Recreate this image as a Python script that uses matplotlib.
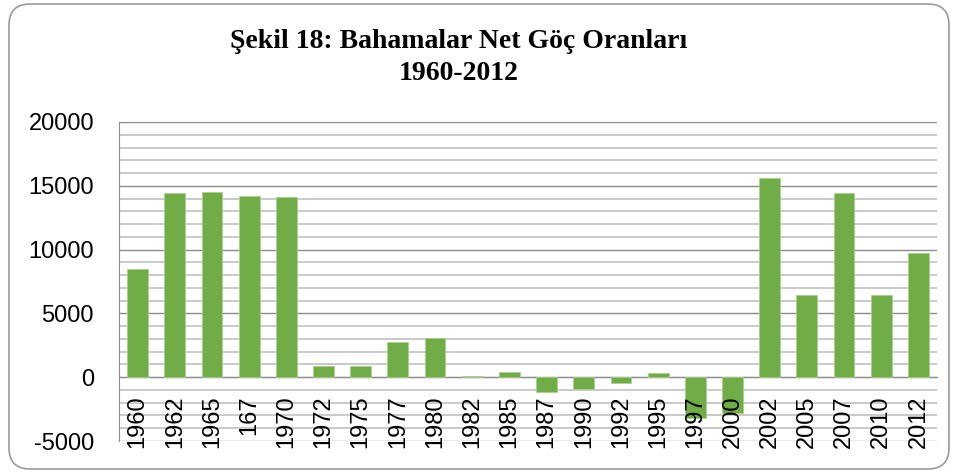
import matplotlib.pyplot as plt
from matplotlib.patches import FancyBboxPatch
from matplotlib.ticker import MultipleLocator

plt.rcParams['axes.unicode_minus'] = False

# yillar (etiketler oldugu gibi, "167" dahil)
years = ['1960', '1962', '1965', '167', '1970', '1972', '1975', '1977', '1980', '1982', '1985',
         '1987', '1990', '1992', '1995', '1997', '2000', '2002', '2005', '2007', '2010', '2012']
net_goc = [8500, 14400, 14500, 14200, 14100, 850, 900, 2760, 3050, 130, 420,
           -1130, -950, -420, 320, -3160, -2800, 15600, 6450, 14400, 6450, 9740]
y_ticks = [-5000, 0, 5000, 10000, 15000, 20000]

fig = plt.figure(figsize=(9.58, 4.72), dpi=100)
ax = fig.add_axes([119 / 958, 1 - 441 / 472, (937 - 119) / 958, (441 - 122) / 472])

# cerceve
fig.patches.append(FancyBboxPatch((9 / 958, 3 / 472), 940 / 958, 465 / 472,
                                  boxstyle='round,pad=0,rounding_size=0.022',
                                  transform=fig.transFigure, facecolor='none',
                                  edgecolor='#9a9a9a', linewidth=1.2, mutation_aspect=958 / 472))

x = list(range(len(years)))
ax.bar(x, net_goc, width=0.56, color='#70AD47', edgecolor='#a9d08e', linewidth=0.6, zorder=3)

ax.spines['bottom'].set_position(('data', 0))
ax.spines['bottom'].set_color('#8c8c8c')
ax.spines['left'].set_color('#8c8c8c')
ax.spines['top'].set_visible(False)
ax.spines['right'].set_visible(False)

ax.set_xlim(-0.5, len(years) - 0.5)
ax.set_ylim(-5000, 20000)
ax.set_yticks(y_ticks)
ax.set_yticklabels([str(v) for v in y_ticks], fontsize=17, fontfamily='Liberation Sans')
ax.yaxis.set_minor_locator(MultipleLocator(1000))
ax.grid(True, which='major', axis='y', color='#8c8c8c', linewidth=1.0, zorder=0)
ax.grid(True, which='minor', axis='y', color='#cacaca', linewidth=1.4, zorder=0)
ax.tick_params(axis='y', which='both', length=0, pad=18)

# kategori etiketleri: sifir cizgisinin altinda, cubuklarin ustunde
ax.set_xticks(x)
ax.set_xticklabels([])
ax.tick_params(axis='x', length=0)
for i, yil in enumerate(years):
    ax.annotate(yil, (i, 0), xytext=(0, -13), textcoords='offset points',
                rotation=90, ha='center', va='top', fontsize=17,
                fontfamily='Liberation Sans', zorder=5, annotation_clip=False)

fig.text(0.479, 1 - 42 / 472, 'Şekil 18: Bahamalar Net Göç Oranları', ha='center', va='center',
         fontsize=20, fontweight='bold', fontfamily='Liberation Serif')
fig.text(0.479, 1 - 73 / 472, '1960-2012', ha='center', va='center',
         fontsize=20, fontweight='bold', fontfamily='Liberation Serif')

fig.savefig('out.png', dpi=100)
